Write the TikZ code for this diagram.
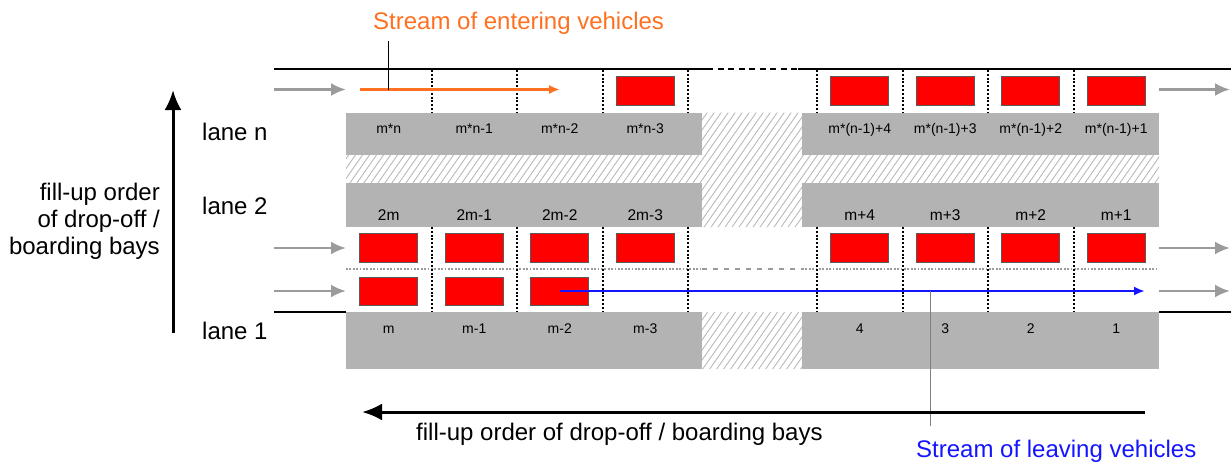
\documentclass[tikz,border=0pt]{standalone}
\usepackage{fontspec}
\setmainfont{Liberation Sans}
\usetikzlibrary{arrows.meta}
\definecolor{baygray}{RGB}{179,179,179}
\definecolor{hatchgray}{RGB}{185,185,185}
\definecolor{flowgray}{RGB}{155,155,155}
\definecolor{enteringcol}{RGB}{255,112,32}
\definecolor{leavingcol}{RGB}{20,20,255}
\definecolor{carred}{RGB}{255,0,0}
\definecolor{caredge}{RGB}{90,90,90}
\tikzset{
 bayfill/.style={fill=baygray, draw=none},
 hatchline/.style={draw=hatchgray, line width=0.9pt},
 carbox/.style={fill=carred, draw=caredge, line width=0.8pt},
 curbline/.style={draw=black, line width=2pt},
 curbdash/.style={draw=black, line width=2pt, dash pattern=on 6pt off 4.5pt},
 baysep/.style={draw=black, line width=2pt, dash pattern=on 2pt off 1.8pt},
 lanesep/.style={draw=flowgray, line width=1.8pt, dash pattern=on 1.8pt off 1.6pt},
 lanesepdash/.style={draw=flowgray, line width=1.8pt, dash pattern=on 5pt off 6pt},
 flowarrow/.style={draw=flowgray, line width=2.6pt, -{Latex[length=15pt,width=13pt]}},
 streamin/.style={draw=enteringcol, line width=2.2pt, -{Latex[length=11pt,width=9pt]}},
 streamout/.style={draw=leavingcol, line width=2.2pt, -{Latex[length=11pt,width=9pt]}},
 orderarrow/.style={draw=black, line width=3pt, -{Latex[length=20pt,width=17pt]}},
 leaderline/.style={draw=black, line width=1pt},
 leadergray/.style={draw=black!50, line width=1pt},
 baylabel/.style={font=\fontsize{14}{16}\selectfont, inner sep=0pt, anchor=base},
 baylabelbig/.style={font=\fontsize{15.5}{17}\selectfont, inner sep=0pt, anchor=base},
 bigtext/.style={font=\fontsize{24}{28}\selectfont, inner sep=0pt},
}
\begin{document}
\begin{tikzpicture}[x=1pt,y=-1pt]
\useasboundingbox (0,0) rectangle (1231,463);
% hatching
\begin{scope}
\clip (346,155) rectangle (1159,183) (702,112.5) rectangle (802,227) (702,312) rectangle (802,369);
\foreach \x in {100,107,...,1250} \draw[hatchline] (\x,380) -- ++(196,-280);
\end{scope}
% gray bays
\fill[bayfill] (346,112.5) rectangle (702,155);
\fill[bayfill] (802,112.5) rectangle (1159,155);
\fill[bayfill] (346,183) rectangle (702,227);
\fill[bayfill] (802,183) rectangle (1159,227);
\fill[bayfill] (346,312) rectangle (702,369);
\fill[bayfill] (802,312) rectangle (1159,369);
% curbs
\coordinate (topA) at (274,69); \coordinate (topB) at (707,69);
\coordinate (topC) at (798,69); \coordinate (topD) at (1231,69);
\draw[curbline] (topA) -- (topB);
\draw[curbdash] (topB) -- (topC);
\draw[curbline] (topC) -- (topD);
\coordinate (botA) at (274,312); \coordinate (botB) at (346,312);
\coordinate (botC) at (1159,312); \coordinate (botD) at (1231,312);
\draw[curbline] (botA) -- (botB);
\draw[curbline] (botC) -- (botD);
% lane separator
\coordinate (sepA) at (346,269); \coordinate (sepB) at (702,269);
\coordinate (sepC) at (802,269); \coordinate (sepD) at (1159,269);
\draw[lanesep] (sepA) -- (sepB);
\draw[lanesepdash] (sepB) -- (sepC);
\draw[lanesep] (sepC) -- (sepD);
% bay separators
\foreach \x in {431.5,517,602.5,688,817,902.5,988,1073.5} {
  \draw[baysep] (\x,70) -- (\x,112.5);
  \draw[baysep] (\x,227) -- (\x,312);
}
% cars
\draw[carbox] ({346+85.5*3.5-29},76.5) rectangle ({346+85.5*3.5+29},105.5);
\foreach \k in {0,1,2,3} {
  \draw[carbox] ({817+85.5*(\k+0.5)-29},76.5) rectangle ({817+85.5*(\k+0.5)+29},105.5);
  \draw[carbox] ({346+85.5*(\k+0.5)-29},233) rectangle ({346+85.5*(\k+0.5)+29},262);
  \draw[carbox] ({817+85.5*(\k+0.5)-29},233) rectangle ({817+85.5*(\k+0.5)+29},262);
}
\foreach \k in {0,1,2} {
  \draw[carbox] ({346+85.5*(\k+0.5)-29},277) rectangle ({346+85.5*(\k+0.5)+29},305);
}
% bay labels
\foreach \lbl [count=\k from 0] in {{m*n},{m*n-1},{m*n-2},{m*n-3}}
  \node[baylabel] (ln\k) at ({346+85.5*(\k+0.5)},133.5) {\lbl};
\foreach \lbl [count=\k from 0] in {{m*(n-1)+4},{m*(n-1)+3},{m*(n-1)+2},{m*(n-1)+1}}
  \node[baylabel] (rn\k) at ({817+85.5*(\k+0.5)},133.5) {\lbl};
\foreach \lbl [count=\k from 0] in {{2m},{2m-1},{2m-2},{2m-3}}
  \node[baylabelbig] (ltwo\k) at ({346+85.5*(\k+0.5)},220.5) {\lbl};
\foreach \lbl [count=\k from 0] in {{m+4},{m+3},{m+2},{m+1}}
  \node[baylabelbig] (rtwo\k) at ({817+85.5*(\k+0.5)},220.5) {\lbl};
\foreach \lbl [count=\k from 0] in {{m},{m-1},{m-2},{m-3}}
  \node[baylabel] (lone\k) at ({346+85.5*(\k+0.5)},333.5) {\lbl};
\foreach \lbl [count=\k from 0] in {{4},{3},{2},{1}}
  \node[baylabel] (rone\k) at ({817+85.5*(\k+0.5)},333.5) {\lbl};
% gray flow arrows
\foreach \y [count=\i] in {89.5,248,291} {
  \coordinate (inA\i) at (274,\y); \coordinate (inB\i) at (346,\y);
  \coordinate (outA\i) at (1159,\y); \coordinate (outB\i) at (1230,\y);
  \draw[flowarrow] (inA\i) -- (inB\i);
  \draw[flowarrow] (outA\i) -- (outB\i);
}
% streams
\coordinate (entS) at (360,89.5); \coordinate (entE) at (560,89.5);
\draw[streamin] (entS) -- (entE);
\coordinate (leaS) at (560,291); \coordinate (leaE) at (1145,291);
\draw[streamout] (leaS) -- (leaE);
\node[bigtext, anchor=base west, text=enteringcol] (entertext) at (373,29.5) {Stream of entering vehicles};
\node[bigtext, anchor=base west, text=leavingcol] (leavetext) at (916,457.5) {Stream of leaving vehicles};
\coordinate (entL1) at (388,41); \coordinate (entL2) at (388,89.5);
\draw[leaderline] (entL1) -- (entL2);
\coordinate (leaL1) at (930,291); \coordinate (leaL2) at (930,426);
\draw[leadergray] (leaL1) -- (leaL2);
% order arrows
\coordinate (vS) at (173,333); \coordinate (vE) at (173,90);
\draw[orderarrow] (vS) -- (vE);
\coordinate (hS) at (1145,412); \coordinate (hE) at (362,412);
\draw[orderarrow] (hS) -- (hE);
\node[bigtext, anchor=base west] (ordbottom) at (416,440) {fill-up order of drop-off / boarding bays};
\node[bigtext, anchor=base east] (ordA) at (160,200.5) {fill-up order};
\node[bigtext, anchor=base east] (ordB) at (160,227) {of drop-off /};
\node[bigtext, anchor=base east] (ordC) at (160,254) {boarding bays};
% lane labels
\node[bigtext, anchor=base west] (lanen) at (202,140) {lane n};
\node[bigtext, anchor=base west] (lanetwo) at (202,214) {lane 2};
\node[bigtext, anchor=base west] (laneone) at (202,339) {lane 1};
\end{tikzpicture}
\end{document}
